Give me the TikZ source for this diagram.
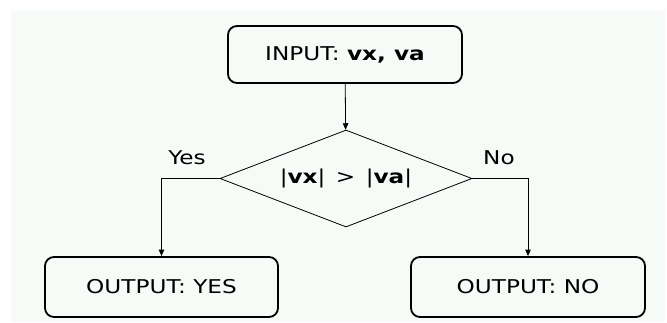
\documentclass[tikz,border=0pt]{standalone}
\usepackage{fontspec}
\setmainfont[FakeStretch=1.22]{DejaVu Sans}
\usetikzlibrary{shapes.geometric,arrows.meta}
\definecolor{panel}{RGB}{246,251,248}
\begin{document}
\begin{tikzpicture}[x=1pt,y=-1pt,
  every node/.style={font=\fontsize{19}{22}\selectfont},
  iobox/.style={draw=black,line width=1.8pt,rounded corners=9pt,inner sep=0pt},
  decision/.style={draw=black,line width=0.8pt,diamond,aspect=2.6,inner sep=0pt,
    minimum width=252pt,minimum height=97pt},
  link/.style={draw=black,line width=0.8pt,-{Triangle[length=6.5pt,width=5.5pt]}},
  branch/.style={inner sep=0pt}]
  \useasboundingbox (0,0) rectangle (667,322);
  \fill[panel] (11,11) rectangle (665,322);

  \node[iobox,minimum width=234pt,minimum height=57pt] (in) at (345,54.5)
    {INPUT: \textbf{vx, va}};
  \node[decision] (dec) at (346,178.5)
    {|\textbf{vx}|\hspace{0.55em}>\hspace{0.55em}|\textbf{va}|};
  \node[iobox,minimum width=233pt,minimum height=60pt] (yes) at (161.5,287)
    {OUTPUT: YES};
  \node[iobox,minimum width=234pt,minimum height=60pt] (no) at (528,287)
    {OUTPUT: NO};

  \node[branch] (ylab) at (187,158) {Yes};
  \node[branch] (nlab) at (499,158) {No};

  \draw[link] (in) -- (dec);
  \draw[link] (dec.west) -| (yes.north);
  \draw[link] (dec.east) -| (no.north);
\end{tikzpicture}
\end{document}
